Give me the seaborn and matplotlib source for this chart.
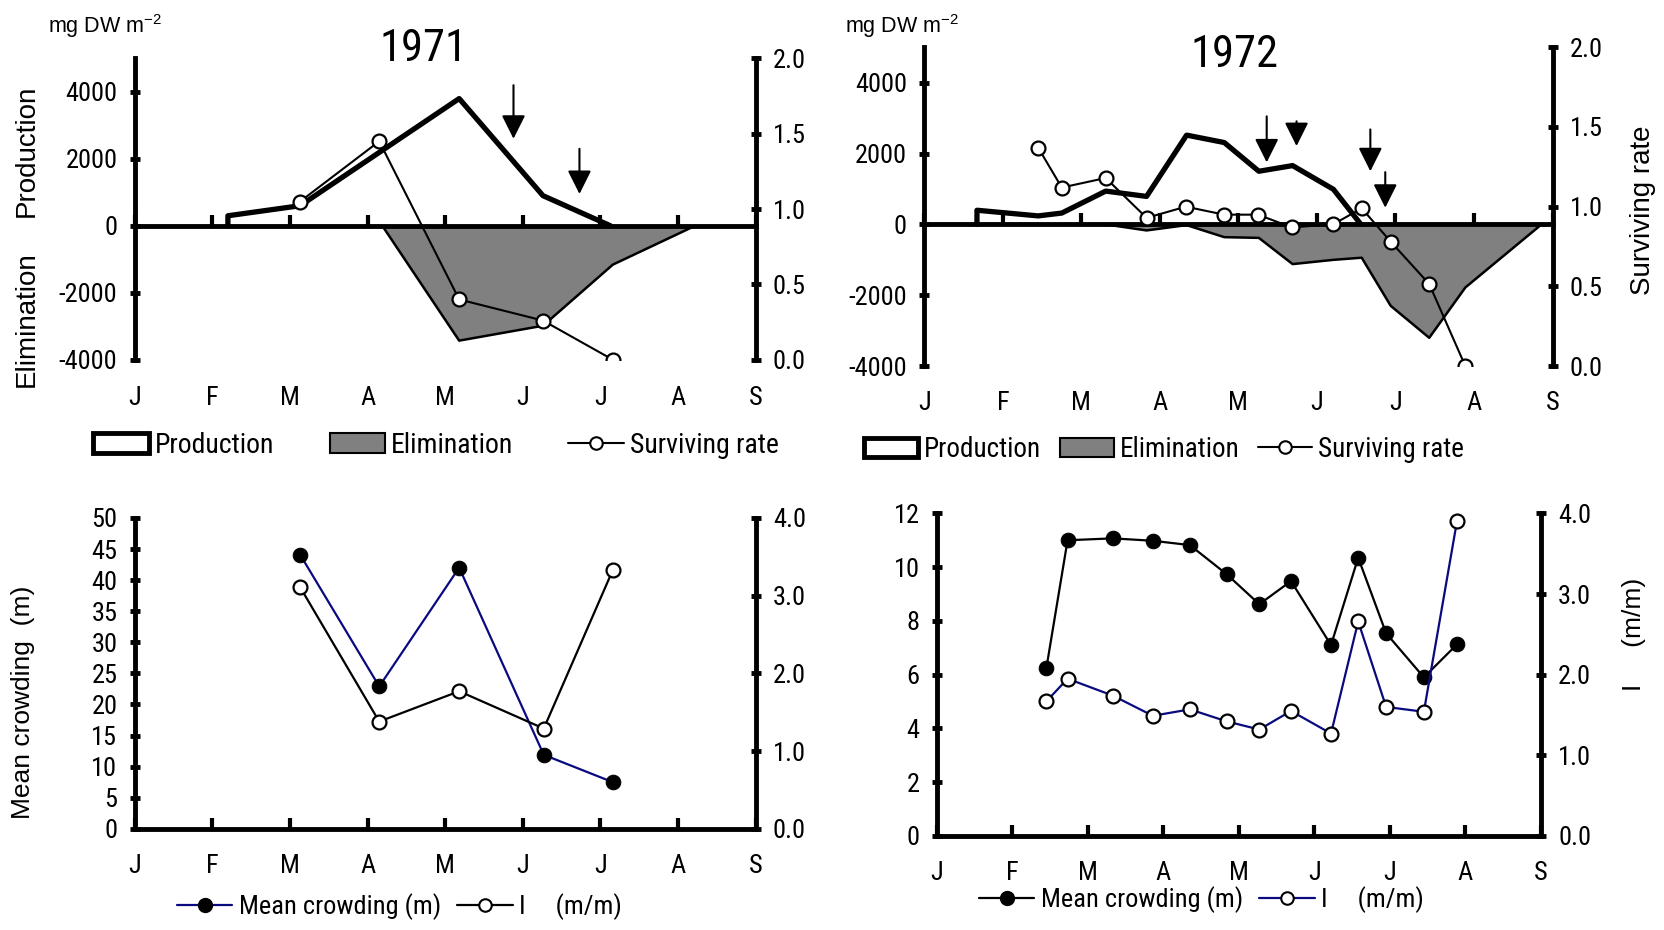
import numpy as np
import pandas as pd
import matplotlib
matplotlib.use("Agg")
import matplotlib.pyplot as plt
import seaborn as sns
from matplotlib import font_manager as fm
from matplotlib.patches import Patch
from matplotlib.lines import Line2D

# ---------------- data ----------------
months = ['J', 'F', 'M', 'A', 'M', 'J', 'J', 'A', 'S']

# 1971 (time in months from 1 Jan)
prod71_t = [1.20, 1.20, 2.13, 4.18, 5.26, 6.13]
prod71 = [0, 300, 600, 3800, 900, 0]
elim71_t = [3.19, 4.18, 5.26, 6.16, 7.22]
elim71 = [0, -3430, -2985, -1160, 0]
surv71_t = [2.13, 3.15, 4.18, 5.26, 6.16]
surv71 = [1.05, 1.45, 0.40, 0.26, 0.0]
arrow71_t = [4.88, 5.73]
arrow71_top = [4200, 2300]
arrow71_tip = [2600, 950]

# 1972
prod72_t = [0.67, 0.67, 1.45, 1.75, 2.31, 2.83, 3.34, 3.82, 4.26, 4.69, 5.21, 5.56]
prod72 = [0, 400, 240, 320, 940, 790, 2520, 2310, 1500, 1660, 990, 0]
elim72_t = [2.31, 2.83, 3.34, 3.82, 4.26, 4.69, 5.21, 5.57, 5.94, 6.43, 6.89, 7.86]
elim72 = [0, -170, -20, -360, -380, -1120, -1000, -940, -2300, -3200, -1780, 0]
surv72_t = [1.45, 1.75, 2.31, 2.83, 3.33, 3.82, 4.25, 4.68, 5.21, 5.57, 5.94, 6.43, 6.89]
surv72 = [1.37, 1.12, 1.18, 0.93, 1.00, 0.95, 0.95, 0.87, 0.89, 0.99, 0.78, 0.515, 0.0]
arrow72_t = [4.36, 4.74, 5.68, 5.87]
arrow72_top = [3050, 2910, 2680, 1475]
arrow72_tip = [1750, 2210, 1500, 470]

# crowding
crowd71_t = [2.13, 3.15, 4.18, 5.27, 6.16]
crowd71 = [44.1, 22.9, 42.0, 11.9, 7.5]
iratio71 = [3.11, 1.38, 1.77, 1.29, 3.33]

crowd72_t = [1.45, 1.73, 2.33, 2.86, 3.35, 3.84, 4.27, 4.69, 5.22, 5.58, 5.95, 6.45, 6.89]
crowd72 = [6.26, 11.0, 11.07, 10.98, 10.82, 9.73, 8.62, 9.48, 7.10, 10.35, 7.54, 5.90, 7.13]
iratio72 = [1.67, 1.95, 1.74, 1.49, 1.57, 1.42, 1.32, 1.55, 1.27, 2.66, 1.60, 1.54, 3.91]

# ---------------- style ----------------
sns.set_theme(style='white')
names = {f.name for f in fm.fontManager.ttflist}
NARROW = next((n for n in ['Liberation Sans Narrow', 'Arial Narrow', 'Roboto Condensed',
                           'Archivo Narrow', 'PT Sans Narrow'] if n in names),
              'Liberation Sans')
WIDE = 'Liberation Sans'
plt.rcParams['font.family'] = [NARROW, 'DejaVu Sans']
plt.rcParams.update({
    'axes.edgecolor': 'black', 'text.color': 'black', 'xtick.color': 'black',
    'ytick.color': 'black', 'axes.labelcolor': 'black',
    'axes.unicode_minus': False,
    'mathtext.fontset': 'custom', 'mathtext.rm': WIDE,
})

NAVY = '#0a0a80'
GREY = '#808080'
SPW = 3.5
TICKFS = 19
LEGFS = 20

fig = plt.figure(figsize=(16.64, 9.30), dpi=100)

ax_tl = fig.add_axes([0.0810, 0.6132, 0.3731, 0.3240])
ax_tr = fig.add_axes([0.5555, 0.6063, 0.3775, 0.3429])
ax_bl = fig.add_axes([0.0810, 0.1088, 0.3731, 0.3343])
ax_br = fig.add_axes([0.5631, 0.1011, 0.3629, 0.3469])


def base_style(ax, ylim, yticks, xpad, zero_axis):
    ax.set_xlim(0, 8)
    ax.set_ylim(*ylim)
    ax.set_facecolor('none')
    ax.set_xticks(range(9))
    ax.set_xticklabels(months)
    ax.set_yticks(yticks)
    ax.spines['top'].set_visible(False)
    ax.spines['right'].set_visible(False)
    ax.spines['left'].set_linewidth(SPW)
    ax.spines['bottom'].set_linewidth(SPW)
    if zero_axis:
        ax.spines['bottom'].set_position(('data', 0))
    ax.tick_params(axis='x', bottom=True, direction='in', length=8, width=3,
                   pad=xpad, labelsize=TICKFS)
    ax.tick_params(axis='y', left=True, direction='inout', length=7, width=3.5,
                   pad=9, labelsize=TICKFS)
    ax.grid(False)


def right_axis(ax, ylim, yticks):
    tw = ax.twinx()
    tw.set_ylim(*ylim)
    tw.set_yticks(yticks)
    tw.set_yticklabels([f'{v:.1f}' for v in yticks])
    for s in ['top', 'left', 'bottom']:
        tw.spines[s].set_visible(False)
    tw.spines['right'].set_linewidth(SPW)
    tw.tick_params(axis='y', right=True, left=False, direction='inout', length=7,
                   width=3.5, pad=9, labelsize=TICKFS)
    tw.grid(False)
    return tw


def prod_panel(ax, pt, pv, et, ev, st, sv, at, atop, atip, xpad):
    base_style(ax, (-4000, 5000), [-4000, -2000, 0, 2000, 4000], xpad, True)
    ax.fill_between(et, ev, 0, color=GREY, linewidth=0, zorder=1)
    sns.lineplot(x=et, y=ev, ax=ax, color='black', lw=1.8, estimator=None,
                 sort=False, zorder=2)
    sns.lineplot(x=pt, y=pv, ax=ax, color='black', lw=3.8, estimator=None,
                 sort=False, zorder=3)
    for x, y0, y1 in zip(at, atop, atip):
        ax.annotate('', xy=(x, y1), xytext=(x, y0),
                    arrowprops=dict(arrowstyle='-|>,head_length=1.0,head_width=0.5',
                                    mutation_scale=14.5, color='black', lw=1.5,
                                    shrinkA=0, shrinkB=0), zorder=4)
    ax.set_xlabel('')
    ax.set_ylabel('')
    tw = right_axis(ax, (0, 2.0), [0.0, 0.5, 1.0, 1.5, 2.0])
    sns.lineplot(x=st, y=sv, ax=tw, color='black', lw=1.5, estimator=None, sort=False,
                 marker='o', markersize=10, markerfacecolor='white',
                 markeredgecolor='black', markeredgewidth=1.6, zorder=5)
    tw.set_ylabel('')
    return tw


prod_panel(ax_tl, prod71_t, prod71, elim71_t, elim71, surv71_t, surv71,
           arrow71_t, arrow71_top, arrow71_tip, 115)
prod_panel(ax_tr, prod72_t, prod72, elim72_t, elim72, surv72_t, surv72,
           arrow72_t, arrow72_top, arrow72_tip, 120)


def crowd_panel(ax, t, mc, ir, ylim, yticks, mc_color, ir_color):
    base_style(ax, ylim, yticks, 18, False)
    sns.lineplot(x=t, y=mc, ax=ax, color=mc_color, lw=1.6, estimator=None, sort=False,
                 marker='o', markersize=10.5, markerfacecolor='black',
                 markeredgecolor='black', zorder=3)
    ax.set_xlabel('')
    ax.set_ylabel('')
    tw = right_axis(ax, (0, 4.0), [0.0, 1.0, 2.0, 3.0, 4.0])
    sns.lineplot(x=t, y=ir, ax=tw, color=ir_color, lw=1.6, estimator=None, sort=False,
                 marker='o', markersize=10, markerfacecolor='white',
                 markeredgecolor='black', markeredgewidth=1.6, zorder=3)
    tw.set_ylabel('')
    return tw


crowd_panel(ax_bl, crowd71_t, crowd71, iratio71, (0, 50), list(range(0, 51, 5)),
            NAVY, 'black')
crowd_panel(ax_br, crowd72_t, crowd72, iratio72, (0, 12), list(range(0, 13, 2)),
            'black', NAVY)

# ---------------- texts ----------------
fig.text(0.2548, 0.9473, '1971', ha='center', va='center', fontsize=32)
fig.text(0.7416, 0.9409, '1972', ha='center', va='center', fontsize=32)
fig.text(0.0290, 0.9645, r'mg DW m$^{\mathregular{-2}}$', family=WIDE, fontsize=15.5,
         ha='left', va='baseline')
fig.text(0.5076, 0.9645, r'mg DW m$^{\mathregular{-2}}$', family=WIDE, fontsize=15.5,
         ha='left', va='baseline')
fig.text(0.0159, 0.8376, 'Production', family=WIDE, fontsize=20, rotation=90,
         ha='center', va='center')
fig.text(0.0159, 0.6570, 'Elimination', family=WIDE, fontsize=20, rotation=90,
         ha='center', va='center')
fig.text(0.9874, 0.7742, 'Surviving rate', family=WIDE, fontsize=20, rotation=90,
         ha='center', va='center')
fig.text(0.0138, 0.2452, 'Mean crowding  (m)', family=WIDE, fontsize=19, rotation=90,
         ha='center', va='center')
fig.text(0.9820, 0.3180, 'I     (m/m)', family=WIDE, fontsize=19, rotation=90,
         ha='center', va='center')

# ---------------- legends ----------------
prod_handles = [
    Patch(facecolor='white', edgecolor='black', linewidth=3.5),
    Patch(facecolor=GREY, edgecolor='black', linewidth=1.5),
    Line2D([], [], color='black', lw=1.5, marker='o', markersize=9,
           markerfacecolor='white', markeredgecolor='black', markeredgewidth=1.5),
]
prod_labels = ['Production', 'Elimination', 'Surviving rate']
fig.legend(prod_handles, prod_labels, loc='center', bbox_to_anchor=(0.262, 0.5215),
           ncol=3, frameon=False, fontsize=LEGFS, handlelength=2.0, handletextpad=0.2,
           columnspacing=2.0, borderpad=0)
fig.legend(prod_handles, prod_labels, loc='center', bbox_to_anchor=(0.6995, 0.5172),
           ncol=3, frameon=False, fontsize=LEGFS - 0.5, handlelength=2.0,
           handletextpad=0.2, columnspacing=0.7, borderpad=0)


def crowd_handles(mc_color, ir_color):
    return [
        Line2D([], [], color=mc_color, lw=1.6, marker='o', markersize=10,
               markerfacecolor='black', markeredgecolor='black'),
        Line2D([], [], color=ir_color, lw=1.6, marker='o', markersize=9,
               markerfacecolor='white', markeredgecolor='black', markeredgewidth=1.5),
    ]


crowd_labels = ['Mean crowding (m)', 'I     (m/m)']
fig.legend(crowd_handles(NAVY, 'black'), crowd_labels, loc='center',
           bbox_to_anchor=(0.2401, 0.0247), ncol=2, frameon=False, fontsize=19,
           handlelength=2.1, handletextpad=0.25, columnspacing=0.6, borderpad=0)
fig.legend(crowd_handles('black', NAVY), crowd_labels, loc='center',
           bbox_to_anchor=(0.7221, 0.0323), ncol=2, frameon=False, fontsize=19,
           handlelength=2.1, handletextpad=0.25, columnspacing=0.6, borderpad=0)

fig.savefig('out.png', dpi=100)
